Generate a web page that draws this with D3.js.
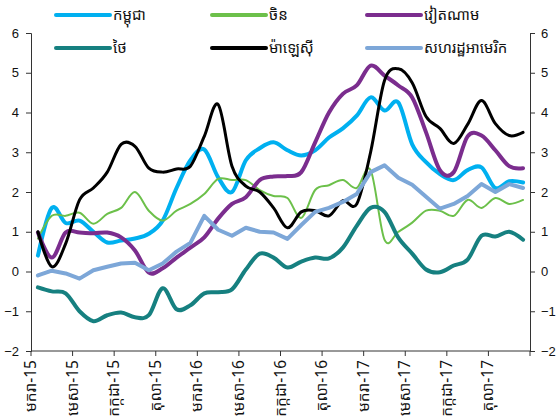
<!DOCTYPE html>
<html><head><meta charset="utf-8">
<script src="https://cdn.jsdelivr.net/npm/d3@7"></script>
<style>body{margin:0;background:#fff}svg{display:block}</style>
</head><body>
<script>
const months = ["មករា-15","កុម្ភៈ-15","មីនា-15","មេសា-15","ឧសភា-15","មិថុនា-15","កក្កដា-15","សីហា-15","កញ្ញា-15","តុលា-15","វិច្ឆិកា-15","ធ្នូ-15",
"មករា-16","កុម្ភៈ-16","មីនា-16","មេសា-16","ឧសភា-16","មិថុនា-16","កក្កដា-16","សីហា-16","កញ្ញា-16","តុលា-16","វិច្ឆិកា-16","ធ្នូ-16",
"មករា-17","កុម្ភៈ-17","មីនា-17","មេសា-17","ឧសភា-17","មិថុនា-17","កក្កដា-17","សីហា-17","កញ្ញា-17","តុលា-17","វិច្ឆិកា-17","ធ្នូ-17"];
const tickLabels = ["មករា-15","មេសា-15","កក្កដា-15","តុលា-15","មករា-16","មេសា-16","កក្កដា-16","តុលា-16","មករា-17","មេសា-17","កក្កដា-17","តុលា-17"];
const yTicks = [-2,-1,0,1,2,3,4,5,6];

const cambodia = [0.4,1.6,1.22,1.28,1.0,0.73,0.78,0.83,0.95,1.28,2.1,2.8,3.07,2.37,2.0,2.8,3.1,3.25,3.05,2.92,3.05,3.37,3.6,3.92,4.38,4.05,4.25,3.2,2.75,2.45,2.3,2.55,2.62,2.1,2.27,2.24];
const china = [0.83,1.4,1.4,1.48,1.2,1.45,1.6,2.0,1.53,1.28,1.53,1.7,1.95,2.33,2.3,2.3,2.05,1.9,1.85,1.35,2.05,2.17,2.3,2.1,2.55,0.8,1.0,1.23,1.53,1.53,1.4,1.8,1.6,1.85,1.7,1.8];
const vietnam = [0.98,0.35,0.98,0.98,0.96,0.98,0.86,0.53,-0.03,0.08,0.35,0.6,0.86,1.33,1.7,1.87,2.3,2.39,2.4,2.5,3.25,4.0,4.47,4.68,5.18,4.93,4.68,4.38,3.5,2.55,2.5,3.4,3.42,3.05,2.65,2.6];
const thailand = [-0.4,-0.5,-0.55,-1.0,-1.25,-1.1,-1.03,-1.15,-1.1,-0.42,-0.95,-0.85,-0.55,-0.52,-0.45,0.05,0.45,0.35,0.1,0.25,0.35,0.33,0.6,1.15,1.6,1.5,0.85,0.45,0.05,-0.02,0.15,0.3,0.9,0.88,1.0,0.8];
const malaysia = [1.0,0.12,0.7,1.8,2.1,2.5,3.2,3.15,2.6,2.5,2.58,2.65,3.4,4.2,2.65,2.15,2.0,1.6,1.1,1.5,1.53,1.4,1.78,1.7,3.0,4.8,5.1,4.75,3.9,3.6,3.22,3.7,4.3,3.72,3.42,3.5];
const usa = [-0.1,0.02,-0.05,-0.18,0.03,0.12,0.2,0.22,0.03,0.2,0.5,0.72,1.4,1.05,0.9,1.1,1.0,0.98,0.82,1.17,1.5,1.6,1.75,1.95,2.5,2.67,2.36,2.18,1.88,1.58,1.7,1.9,2.2,2.0,2.2,2.1];

const seriesNames = ["កម្ពុជា","ចិន","វៀតណាម","ថៃ","ម៉ាឡេស៊ី","សហរដ្ឋអាមេរិក"];
const seriesData = [cambodia, china, vietnam, thailand, malaysia, usa];
const colors = ["#00B0F0","#6CC04A","#7B2D8E","#168080","#000000","#7DA7D8"];
const widths = [4,2,4,4,3,4];
const smooth = [true,true,true,true,true,false];

const W=558,H=418;
const svg=d3.select("body").append("svg").attr("width",W).attr("height",H);
const mLeft=31,mRight=530,mTop=33,mBottom=351;
const x=d3.scaleBand().domain(months).range([mLeft,mRight]).paddingInner(0).paddingOuter(0);
const y=d3.scaleLinear().domain([-2,6]).range([mBottom,mTop]);
const font="'Liberation Sans', Arial, sans-serif";
const kfont="'Noto Sans Khmer','Khmer OS','Noto Sans',sans-serif";

// axes
const yl=svg.append("g").attr("transform",`translate(${mLeft},0)`).call(d3.axisLeft(y).tickValues(yTicks).tickSize(5).tickPadding(7));
const yr=svg.append("g").attr("transform",`translate(${mRight},0)`).call(d3.axisRight(y).tickValues(yTicks).tickSize(5).tickPadding(6));
[yl,yr].forEach(g=>{g.selectAll("path,line").attr("stroke","#333");g.selectAll("text").attr("font-family",font).attr("font-size",13).attr("fill","#111");});

const xa=svg.append("g").attr("transform",`translate(0,${mBottom})`);
xa.append("line").attr("x1",mLeft).attr("x2",mRight).attr("stroke","#333");
const tickIdx=d3.range(0,37,3);
tickIdx.forEach((k,j)=>{
  const tx = k<36 ? x(months[k]) : mRight;
  xa.append("line").attr("x1",tx).attr("x2",tx).attr("y1",0).attr("y2",5).attr("stroke","#333");
  if(j<tickLabels.length){
    xa.append("text").attr("transform",`translate(${tx+5},9) rotate(-90)`).attr("text-anchor","end")
      .attr("font-family",kfont).attr("font-size",15.5).attr("fill","#111").text(tickLabels[j]);
  }
});

// lines
seriesData.forEach((d,i)=>{
  const line=d3.line().x((v,k)=>x(months[k])+x.bandwidth()/2).y(v=>y(v))
    .curve(smooth[i]?d3.curveCatmullRom.alpha(0):d3.curveLinear);
  svg.append("path").datum(d).attr("d",line).attr("fill","none").attr("stroke",colors[i])
    .attr("stroke-width",widths[i]).attr("stroke-linejoin","round").attr("stroke-linecap","round");
});

// legend
const legX=[56,212,367], legY=[15,48];
seriesNames.forEach((n,i)=>{
  const lx=legX[i%3], ly=legY[Math.floor(i/3)];
  const g=svg.append("g");
  g.append("line").attr("x1",lx).attr("x2",lx+54).attr("y1",ly).attr("y2",ly).attr("stroke",colors[i]).attr("stroke-width",4).attr("stroke-linecap","round");
  g.append("text").attr("x",lx+57).attr("y",ly+5).attr("font-family",kfont).attr("font-size",15).attr("fill","#111").text(n);
});
</script>
</body></html>
